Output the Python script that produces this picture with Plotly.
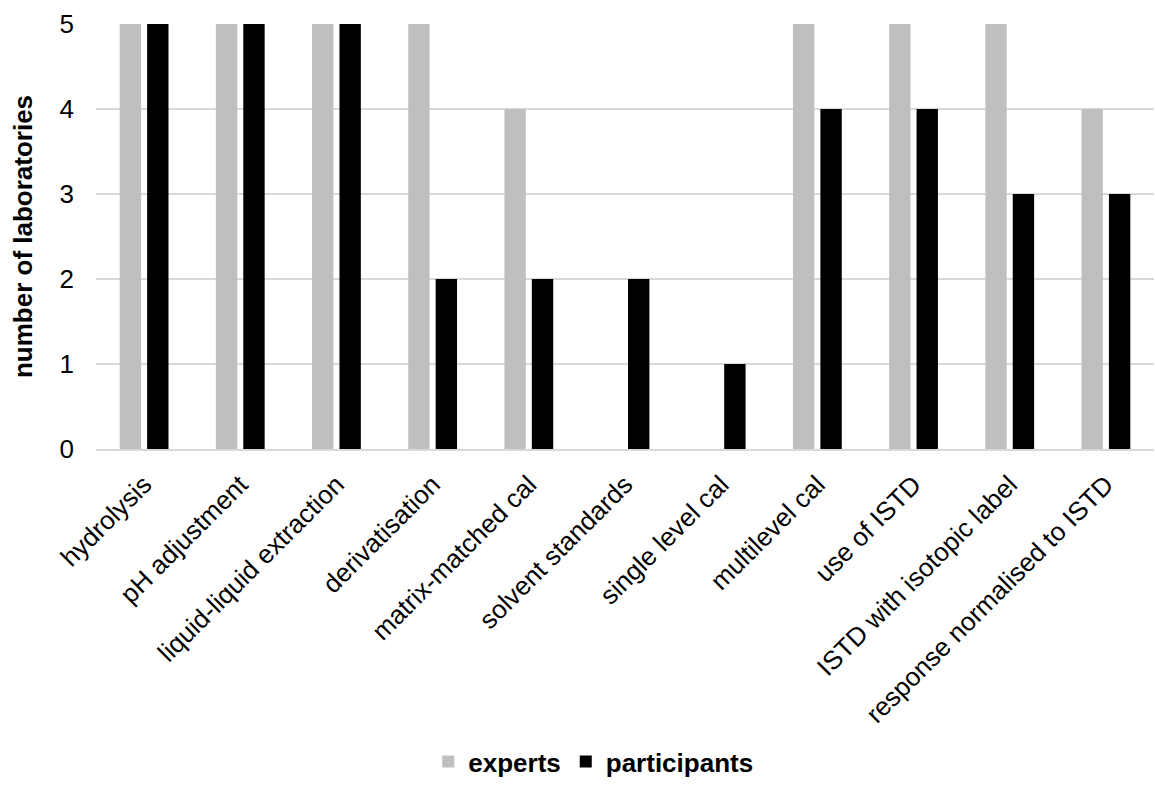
import plotly.graph_objects as go

categories = [
    "hydrolysis", "pH adjustment", "liquid-liquid extraction", "derivatisation",
    "matrix-matched cal", "solvent standards", "single level cal", "multilevel cal",
    "use of ISTD", "ISTD with isotopic label", "response normalised to ISTD",
]
experts = [5, 5, 5, 5, 4, 0, 0, 5, 5, 5, 4]
participants = [5, 5, 5, 2, 2, 2, 1, 4, 4, 3, 3]
y_ticks = [0, 1, 2, 3, 4, 5]

FONT = "Liberation Sans, Arial, sans-serif"

fig = go.Figure()
fig.add_trace(go.Bar(x=categories, y=experts, name="experts",
                     marker=dict(color="#BFBFBF", line=dict(width=0))))
fig.add_trace(go.Bar(x=categories, y=participants, name="participants",
                     marker=dict(color="#000000", line=dict(width=0))))

fig.update_layout(
    width=1155, height=785,
    margin=dict(l=96, r=1, t=24, b=336, autoexpand=False),
    plot_bgcolor="white", paper_bgcolor="white",
    barmode="group", bargap=0.43, bargroupgap=0.22,
    font=dict(family=FONT, color="#000000", size=26),
    showlegend=True,
    legend=dict(orientation="h", x=0.47, xanchor="center",
                yref="container", y=0.0, yanchor="bottom",
                font=dict(size=26, family=FONT, color="#000000", weight="bold"),
                itemwidth=30, traceorder="normal"),
)
fig.update_xaxes(
    tickangle=-45, tickfont=dict(size=26), showgrid=False, automargin=False,
    showline=True, linecolor="#D9D9D9", linewidth=2, ticks="", ticklabelstandoff=8,
)
fig.update_yaxes(
    range=[0, 5], tickvals=y_ticks, tickfont=dict(size=26), automargin=False,
    showgrid=True, gridcolor="#D9D9D9", gridwidth=1.5,
    zeroline=False, showline=False, ticks="", ticklen=0, ticklabelstandoff=21,
    title=dict(text="<b>number of laboratories</b>", font=dict(size=26), standoff=19),
)

fig.write_html("out.html")
